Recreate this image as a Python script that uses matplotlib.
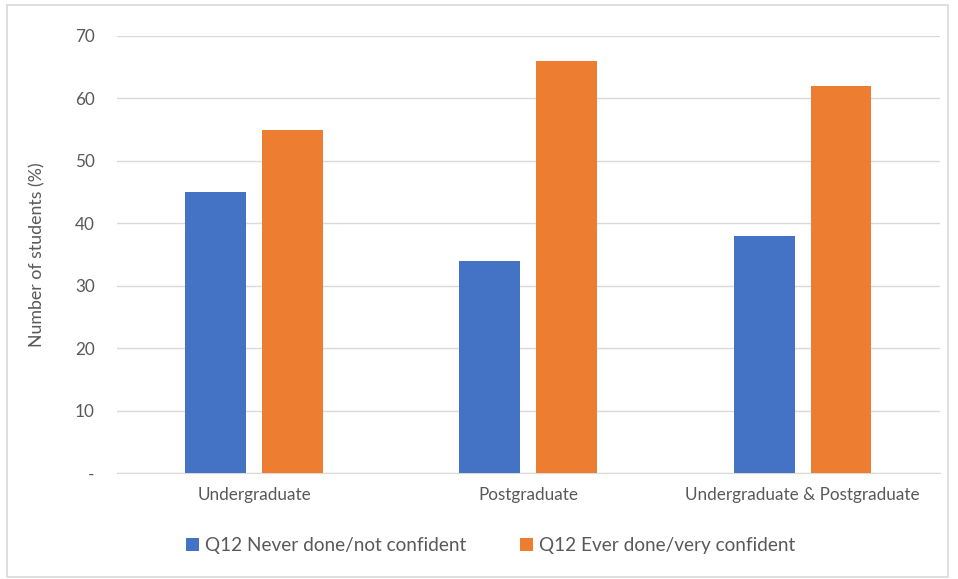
import matplotlib.pyplot as plt
import numpy as np
from matplotlib.patches import Rectangle

# data
categories = ['Undergraduate', 'Postgraduate', 'Undergraduate & Postgraduate']
never_done = [45, 34, 38]
ever_done = [55, 66, 62]
series_names = ['Q12 Never done/not confident', 'Q12 Ever done/very confident']
y_ticks = [0, 10, 20, 30, 40, 50, 60, 70]
y_ticklabels = ['-', '10', '20', '30', '40', '50', '60', '70']

plt.rcParams['font.family'] = ['Lato', 'DejaVu Sans']
text_col = '#595959'

fig = plt.figure(figsize=(9.58, 5.79), dpi=100)
fig.patches.append(Rectangle((0.007, 0.003), 0.983, 0.988, transform=fig.transFigure,
                             fill=False, edgecolor='#d9d9d9', linewidth=1.2))

ax = fig.add_axes([0.122, 0.183, 0.859, 0.755])
x = np.arange(len(categories))
w = 0.222
ax.bar(x - 0.14, never_done, w, color='#4472c4', label=series_names[0], zorder=3)
ax.bar(x + 0.14, ever_done, w, color='#ed7d31', label=series_names[1], zorder=3)

ax.set_xlim(-0.5, 2.5)
ax.set_ylim(0, 70)
ax.set_yticks(y_ticks)
ax.set_yticklabels(y_ticklabels)
ax.set_xticks(x)
ax.set_xticklabels(categories)
ax.tick_params(length=0, colors=text_col, labelsize=12.3)
ax.tick_params(axis='y', pad=16)
ax.tick_params(axis='x', pad=10)
ax.grid(axis='y', color='#d9d9d9', linewidth=1, zorder=0)
for s in ['top', 'right', 'left']:
    ax.spines[s].set_visible(False)
ax.spines['bottom'].set_color('#d9d9d9')
ax.set_ylabel('Number of students (%)', color=text_col, fontsize=12.8, labelpad=21)

fig.legend(loc='center', bbox_to_anchor=(0.512, 0.057), ncol=2, frameon=False,
           fontsize=13.7, labelcolor=text_col, handlelength=0.7, handleheight=0.7,
           handletextpad=0.3, columnspacing=2.8)

fig.savefig('out.png', dpi=100)
